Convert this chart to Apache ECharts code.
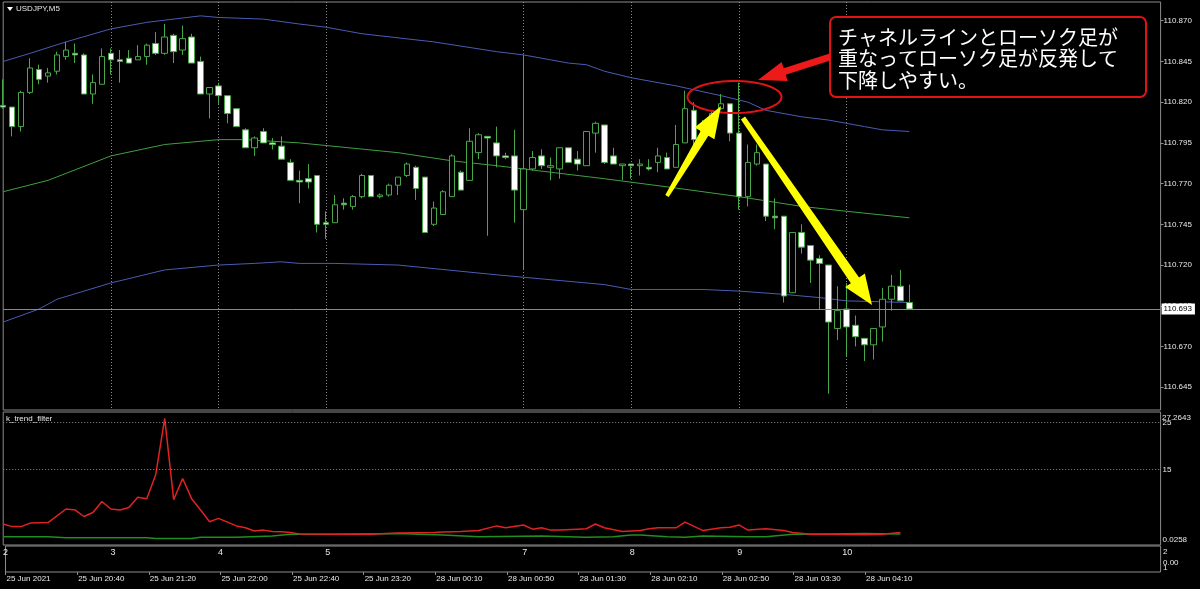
<!DOCTYPE html>
<html><head><meta charset="utf-8">
<script src="https://cdn.jsdelivr.net/npm/echarts@6/dist/echarts.min.js"></script>
<style>html,body{margin:0;padding:0;background:#000;}#c{width:1200px;height:589px;}</style>
</head><body><div id="c"></div>
<script>
// ---- data (USDJPY M5) ----
const opens  = [110.818,110.817,110.805,110.826,110.840,110.836,110.839,110.848,110.850,110.849,
                110.825,110.831,110.850,110.846,110.847,110.846,110.848,110.856,110.850,110.861,
                110.852,110.860,110.845,110.825,110.830,110.824,110.816,110.803,110.792,110.802,
                110.795,110.793,110.783,110.772,110.773,110.775,110.746,110.746,110.758,110.756,
                110.762,110.775,110.762,110.763,110.769,110.775,110.780,110.774,110.745,110.751,
                110.762,110.777,110.772,110.789,110.799,110.795,110.787,110.787,110.754,110.779,
                110.787,110.780,110.779,110.792,110.785,110.781,110.801,110.806,110.787,110.781,
                110.782,110.781,110.780,110.783,110.786,110.780,110.795,110.815,110.797,110.805,
                110.816,110.819,110.801,110.762,110.782,110.782,110.750,110.750,110.703,110.740,
                110.732,110.724,110.720,110.681,110.693,110.683,110.675,110.671,110.682,110.699,
                110.707,110.697];
const highs  = [110.834,110.817,110.827,110.847,110.843,110.841,110.851,110.857,110.856,110.850,
                110.837,110.853,110.853,110.852,110.852,110.855,110.856,110.863,110.868,110.862,
                110.867,110.862,110.848,110.829,110.832,110.824,110.816,110.804,110.799,110.804,
                110.798,110.799,110.785,110.778,110.782,110.775,110.753,110.763,110.761,110.763,
                110.776,110.775,110.764,110.770,110.774,110.783,110.781,110.774,110.759,110.766,
                110.788,110.778,110.804,110.801,110.799,110.805,110.789,110.803,110.849,110.790,
                110.791,110.786,110.792,110.792,110.790,110.802,110.808,110.806,110.792,110.782,
                110.782,110.785,110.785,110.792,110.789,110.806,110.827,110.820,110.809,110.815,
                110.825,110.819,110.832,110.794,110.794,110.782,110.761,110.750,110.740,110.745,
                110.732,110.726,110.720,110.707,110.709,110.689,110.675,110.681,110.706,110.714,
                110.717,110.708];
const lows   = [110.816,110.799,110.802,110.825,110.831,110.832,110.837,110.846,110.844,110.825,
                110.819,110.831,110.837,110.832,110.844,110.846,110.843,110.849,110.849,110.844,
                110.849,110.844,110.825,110.810,110.819,110.807,110.805,110.792,110.787,110.795,
                110.791,110.785,110.772,110.758,110.767,110.740,110.736,110.746,110.754,110.754,
                110.761,110.762,110.761,110.762,110.763,110.774,110.760,110.740,110.744,110.751,
                110.762,110.766,110.772,110.785,110.738,110.780,110.785,110.746,110.717,110.778,
                110.779,110.772,110.773,110.783,110.778,110.781,110.789,110.782,110.782,110.772,
                110.773,110.775,110.778,110.777,110.779,110.780,110.795,110.792,110.794,110.803,
                110.815,110.796,110.754,110.756,110.781,110.747,110.742,110.697,110.703,110.727,
                110.709,110.693,110.641,110.674,110.664,110.670,110.661,110.662,110.673,110.692,
                110.698,110.693];
const closes = [110.817,110.805,110.826,110.841,110.834,110.838,110.849,110.852,110.849,110.825,
                110.832,110.848,110.846,110.845,110.844,110.848,110.855,110.850,110.860,110.851,
                110.859,110.844,110.825,110.829,110.824,110.813,110.805,110.792,110.798,110.795,
                110.794,110.785,110.772,110.771,110.771,110.745,110.745,110.757,110.757,110.762,
                110.775,110.762,110.763,110.769,110.774,110.782,110.767,110.740,110.755,110.765,
                110.787,110.766,110.796,110.800,110.798,110.787,110.786,110.766,110.779,110.786,
                110.781,110.781,110.792,110.783,110.782,110.802,110.807,110.783,110.782,110.782,
                110.781,110.782,110.779,110.787,110.779,110.794,110.816,110.797,110.806,110.813,
                110.819,110.801,110.762,110.783,110.789,110.750,110.749,110.701,110.740,110.731,
                110.723,110.721,110.685,110.692,110.682,110.676,110.671,110.681,110.699,110.707,
                110.698,110.693];

const upperBand  = [[0,110.845],[3,110.850],[7,110.857],[12,110.865],[16,110.869],[22,110.873],[24,110.872],
                    [29,110.871],[33,110.868],[36,110.866],[40,110.862],[48,110.857],[55,110.851],[58,110.849],
                    [61,110.846],[63,110.844],[65,110.843],[67,110.839],[70,110.835],[75,110.830],[80,110.824],
                    [83,110.820],[85,110.815],[89,110.811],[92,110.809],[94,110.807],[96,110.805],[98,110.803],[101,110.802]];
const middleBand = [[0,110.765],[5,110.772],[12,110.787],[18,110.794],[24,110.797],[27,110.797],[33,110.795],
                    [44,110.789],[50,110.784],[55,110.781],[61,110.777],[67,110.773],[74,110.768],[82,110.762],
                    [89,110.756],[94,110.753],[101,110.749]];
const lowerBand  = [[0,110.685],[4,110.693],[6,110.699],[12,110.709],[18,110.717],[24,110.720],[28,110.721],
                    [31,110.722],[33,110.721],[37,110.721],[44,110.720],[55,110.714],[67,110.708],[70,110.705],
                    [78,110.705],[82,110.704],[87,110.702],[91,110.700],[94,110.698],[101,110.697]];

const trendRed = [[0,3.4],[1,2.85],[2,2.85],[3,3.6],[5,3.7],[7,6.6],[8,6.4],[9,5.0],[10,5.85],[11,8.2],[12,6.6],
                  [13,6.4],[14,6.9],[15,9.1],[16,8.8],[17,13.9],[18,25.9],[19,8.6],[20,13.1],[21,8.8],[22,6.4],
                  [23,3.9],[24,4.6],[25,3.8],[26,3.0],[27,2.6],[28,1.9],[29,2.1],[30,1.8],[31,1.75],[32,1.6],
                  [33,1.3],[37,1.2],[41,1.2],[44,1.5],[48,1.6],[49,1.7],[51,1.8],[53,2.0],[55,3.0],[56,2.6],
                  [58,3.2],[59,2.3],[60,2.6],[61,2.1],[62,2.1],[64,2.3],[65,2.4],[66,3.4],[67,2.6],[69,1.8],
                  [71,2.0],[72,2.4],[73,2.6],[75,2.6],[76,3.8],[77,2.9],[78,2.0],[80,2.6],[81,2.7],[82,3.2],
                  [83,2.1],[85,2.4],[87,2.0],[88,1.6],[90,1.2],[92,1.2],[96,1.1],[98,1.2],[100,1.6]];
const trendGreen = [[0,0.7],[5,0.7],[7,0.5],[16,0.5],[17,0.3],[21,0.3],[22,0.6],[26,0.6],[30,0.85],[32,1.2],
                    [37,1.2],[44,1.4],[49,1.07],[53,0.7],[60,0.85],[65,0.57],[68,0.7],[70,1.07],[71,1.07],
                    [74,0.7],[76,0.57],[78,0.85],[83,0.7],[85,0.7],[88,1.2],[92,1.3],[96,1.4],[100,1.3]];

const priceTicks = [110.645,110.670,110.695,110.720,110.745,110.770,110.795,110.820,110.845,110.870];
const trendTicks = [0.0258,15,25];
const trendMaxLabel = '27.2643';
const trendLevels = [25,15];
const timeLabels = ['25 Jun 2021','25 Jun 20:40','25 Jun 21:20','25 Jun 22:00','25 Jun 22:40','25 Jun 23:20',
                    '28 Jun 00:10','28 Jun 00:50','28 Jun 01:30','28 Jun 02:10','28 Jun 02:50','28 Jun 03:30','28 Jun 04:10'];
const hourLabels = ['2','3','4','5','7','8','9','10'];
const hourBars   = [0,12,24,36,58,70,82,94];
const lastPrice = 110.693;
const slotCount = 130;

// ---- chart ----
const cats = Array.from({length: slotCount}, (_, i) => String(i));
const candles = opens.map((o, i) => [o, closes[i], lows[i], highs[i]]);
const FONT = 'Liberation Sans';
const TXT = '#e8e8e8';
const FRAME = '#8c8c8c';
const isHour = (idx) => hourBars.indexOf(idx) >= 0 && idx > 0;
const isTime = (idx) => idx % 8 === 0 && idx / 8 < timeLabels.length;

function arrow(tip, tail, headLen, headHalf, baseHalf, tailHalf) {
  const dx = tail[0] - tip[0], dy = tail[1] - tip[1], len = Math.hypot(dx, dy);
  const ux = dx / len, uy = dy / len, nx = -uy, ny = ux;
  const bx = tip[0] + ux * headLen, by = tip[1] + uy * headLen;
  return [tip, [bx + nx * headHalf, by + ny * headHalf], [bx + nx * baseHalf, by + ny * baseHalf],
          [tail[0] + nx * tailHalf, tail[1] + ny * tailHalf], [tail[0] - nx * tailHalf, tail[1] - ny * tailHalf],
          [bx - nx * baseHalf, by - ny * baseHalf], [bx - nx * headHalf, by - ny * headHalf]];
}
function ellipsePts(cx, cy, rx, ry) {
  const p = [];
  for (let k = 0; k < 72; k++) { const t = k / 72 * Math.PI * 2; p.push([cx + rx * Math.cos(t), cy + ry * Math.sin(t)]); }
  return p;
}

const chart = echarts.init(document.getElementById('c'), null, {renderer: 'canvas'});
const hiddenX = (gi) => ({type: 'category', gridIndex: gi, data: cats, boundaryGap: false,
  axisLine: {show: false}, axisTick: {show: false}, axisLabel: {show: false}});

chart.setOption({
  backgroundColor: '#000',
  animation: false,
  grid: [
    {left: 3.2, width: 1157.4, top: 2, height: 408, show: true, borderColor: FRAME, borderWidth: 1},
    {left: 3.2, width: 1157.4, top: 412, height: 133, show: true, borderColor: FRAME, borderWidth: 1},
    {left: 3.2, width: 1157.4, top: 546, height: 26, show: true, borderColor: FRAME, borderWidth: 1}
  ],
  xAxis: [
    Object.assign(hiddenX(0), {splitLine: {show: true, interval: (idx) => isHour(idx),
      lineStyle: {color: '#8a8a8a', type: [1, 2], width: 1}}}),
    hiddenX(1),
    {type: 'category', gridIndex: 2, data: cats, boundaryGap: false, position: 'bottom',
      axisLine: {show: false},
      axisTick: {show: true, interval: (idx) => isTime(idx), length: 3, lineStyle: {color: FRAME}},
      axisLabel: {show: true, interval: (idx) => isTime(idx), formatter: (v, idx) => timeLabels[idx / 8],
        align: 'left', color: TXT, fontSize: 8, fontFamily: FONT, margin: 3, padding: [0, 0, 0, 1]}},
    {type: 'category', gridIndex: 2, data: cats, boundaryGap: false, position: 'top',
      axisLine: {show: false}, axisTick: {show: false},
      axisLabel: {show: true, inside: true, interval: (idx) => hourBars.indexOf(idx) >= 0,
        formatter: (v, idx) => hourLabels[hourBars.indexOf(idx)],
        color: TXT, fontSize: 9, fontFamily: FONT, margin: 2}}
  ],
  yAxis: [
    {type: 'value', gridIndex: 0, position: 'right', min: 110.6310, max: 110.8815,
      axisLine: {show: false}, splitLine: {show: false},
      axisTick: {show: true, customValues: priceTicks, length: 3, lineStyle: {color: FRAME}},
      axisLabel: {customValues: priceTicks, formatter: (v) => v.toFixed(3), color: TXT, fontSize: 8,
        fontFamily: FONT, margin: 3}},
    {type: 'value', gridIndex: 1, position: 'right', min: -1.07, max: 27.2643,
      axisLine: {show: false}, splitLine: {show: false}, axisTick: {show: false},
      axisLabel: {customValues: trendTicks, margin: 2, formatter: (v) => String(v),
        color: TXT, fontSize: 8, fontFamily: FONT}},
    {type: 'value', gridIndex: 2, position: 'right', min: 0, max: 2, show: false}
  ],
  series: [
    {type: 'line', xAxisIndex: 0, yAxisIndex: 0, data: upperBand, symbol: 'none', silent: true,
      lineStyle: {color: '#4a5cb4', width: 1}, z: 1},
    {type: 'line', xAxisIndex: 0, yAxisIndex: 0, data: middleBand, symbol: 'none', silent: true,
      lineStyle: {color: '#3fa03f', width: 1}, z: 1},
    {type: 'line', xAxisIndex: 0, yAxisIndex: 0, data: lowerBand, symbol: 'none', silent: true,
      lineStyle: {color: '#4a5cb4', width: 1}, z: 1,
      markLine: {silent: true, symbol: 'none', animation: false, precision: 3,
        lineStyle: {color: '#8a8a8a', width: 1, type: 'solid'},
        label: {show: true, position: 'end', formatter: lastPrice.toFixed(3), backgroundColor: '#ffffff',
          color: '#000000', fontSize: 8, fontFamily: FONT, padding: [2, 3, 1, 2], distance: 1},
        data: [{yAxis: lastPrice}]}},
    {type: 'candlestick', xAxisIndex: 0, yAxisIndex: 0, data: candles, barWidth: 6, z: 3,
      itemStyle: {color: '#000000', color0: '#ffffff', borderColor: '#48a848', borderColor0: '#48a848',
        borderColorDoji: '#48a848', borderWidth: 1}},
    {type: 'line', xAxisIndex: 1, yAxisIndex: 1, data: trendGreen, symbol: 'none', silent: true,
      lineStyle: {color: '#1f8f1f', width: 1.5}},
    {type: 'line', xAxisIndex: 1, yAxisIndex: 1, data: trendRed, symbol: 'none', silent: true,
      lineStyle: {color: '#e02222', width: 1.5},
      markLine: {silent: true, symbol: 'none', label: {show: false}, precision: 4,
        lineStyle: {color: '#8a8a8a', type: [1, 2], width: 1},
        data: trendLevels.map((v) => ({yAxis: v}))}}
  ],
  graphic: [
    {type: 'polygon', z: 100, shape: {points: [[7, 7], [13, 7], [10, 11]]}, style: {fill: '#ffffff'}},
    {type: 'text', z: 100, x: 16, y: 9, style: {text: 'USDJPY,M5', fill: TXT, fontSize: 8, fontFamily: FONT,
      verticalAlign: 'middle'}},
    {type: 'text', z: 100, x: 6, y: 419, style: {text: 'k_trend_filter', fill: TXT, fontSize: 8, fontFamily: FONT,
      verticalAlign: 'middle'}},
    {type: 'text', z: 100, x: 1162, y: 418, style: {text: trendMaxLabel, fill: TXT, fontSize: 8, fontFamily: FONT,
      verticalAlign: 'middle'}},
    {type: 'text', z: 100, x: 1163, y: 552, style: {text: '2', fill: TXT, fontSize: 8, fontFamily: FONT,
      verticalAlign: 'middle'}},
    {type: 'text', z: 100, x: 1163, y: 563, style: {text: '0.00', fill: TXT, fontSize: 8, fontFamily: FONT,
      verticalAlign: 'middle'}},
    {type: 'text', z: 100, x: 1163, y: 568, style: {text: '1', fill: TXT, fontSize: 8, fontFamily: FONT,
      verticalAlign: 'middle'}},
    // callout
    {type: 'rect', z: 100, shape: {x: 830, y: 17, width: 316, height: 80, r: 6},
      style: {fill: '#000000', stroke: '#e01414', lineWidth: 2}},
    {type: 'text', z: 101, x: 838, y: 26.5, style: {
      text: 'チャネルラインとローソク足が\n重なってローソク足が反発して\n下降しやすい。',
      fill: '#ffffff', fontSize: 20, lineHeight: 21.5, fontFamily: 'Noto Sans CJK JP', verticalAlign: 'top'}},
    {type: 'polygon', z: 100, shape: {points: ellipsePts(734.5, 97, 47, 16)},
      style: {fill: 'none', stroke: '#e01414', lineWidth: 2}},
    {type: 'polygon', z: 100, shape: {points: arrow([758, 80], [830, 57], 28, 10, 3.5, 3.5)},
      style: {fill: '#ee1a1a'}},
    {type: 'polygon', z: 100, shape: {points: arrow([721, 106], [667, 196], 32, 11.5, 4.5, 2)},
      style: {fill: '#ffff00'}},
    {type: 'polygon', z: 100, shape: {points: arrow([872, 305], [743, 118], 30, 12, 5, 2.5)},
      style: {fill: '#ffff00'}}
  ]
});
</script>
</body></html>
